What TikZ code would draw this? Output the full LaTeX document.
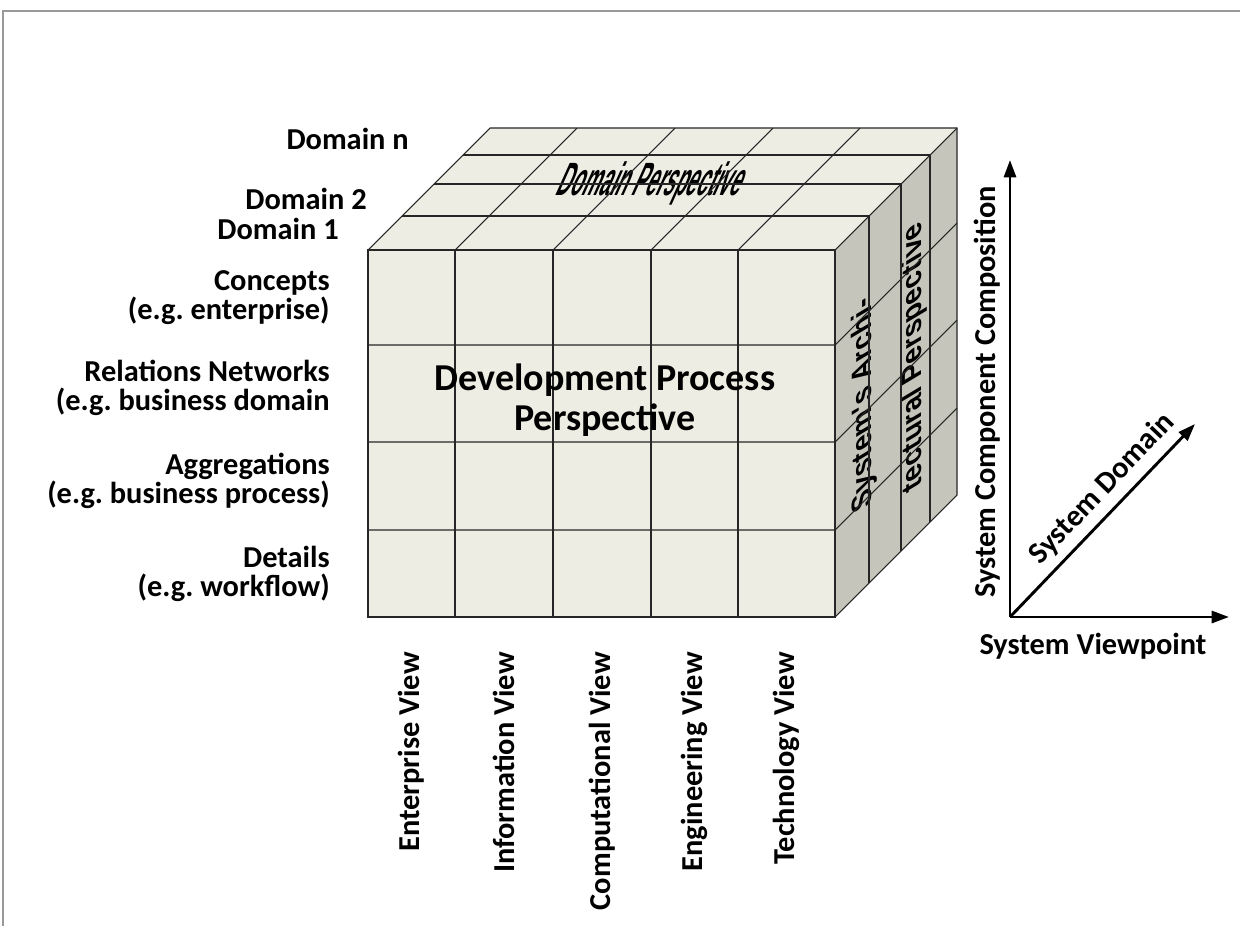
\documentclass[tikz,border=0pt]{standalone}
\usepackage{fontspec}
\setmainfont{Carlito}
\newfontfamily\warpfont{Liberation Sans}
\usetikzlibrary{arrows.meta}
\frenchspacing

\definecolor{facefront}{RGB}{238,237,228}
\definecolor{faceside}{RGB}{197,197,188}

\begin{document}
\begin{tikzpicture}[
  x=0.75pt, y=-0.75pt,
  every node/.style={inner sep=0pt},
  lbl/.style={font=\bfseries\fontsize{22.8}{21.8}\selectfont},
  rowlabel/.style={lbl, anchor=east, align=right},
  viewlabel/.style={lbl, rotate=90, anchor=east},
  cell/.style={draw=black!85, line width=0.8pt},
  warped/.style={font=\warpfont\bfseries\fontsize{20}{20}\selectfont},
  axis/.style={-{Triangle[length=13pt,width=9pt]}, line width=2.2pt}
]
\useasboundingbox (0,0) rectangle (1240,926);
\draw[gray!80, line width=1.5pt] (3,926) -- (3,11) -- (1240,11);

% faces of the cube
\fill[facefront] (368,250) -- (490,128) -- (957,128) -- (835,250) -- cycle;
\fill[faceside] (835,250) -- (957,128) -- (957,495) -- (835,617) -- cycle;
\fill[facefront] (368,250) rectangle (835,617);

% captions warped onto the top and side faces
\node[warped, xslant=0.45, xscale=0.72, yscale=1.75] (domp) at (652,183) {Domain Perspective};
\node[warped, rotate=90, xslant=-0.6, xscale=1.05, yscale=1.05] (arch1) at (864,404) {System's Archi-};
\node[warped, rotate=90, xslant=-0.6, xscale=1.05, yscale=1.05] (arch2) at (914,357) {tectural Perspective};

% grid
\foreach \x in {455,553,651,738} {
  \draw[cell] (\x,250) -- (\x,617);
  \draw[cell] (\x,250) -- ++(122,-122);
}
\foreach \y in {345,442,530} {
  \draw[cell] (368,\y) -- (835,\y) -- ++(122,-122);
}
\foreach \d in {34,66,95} {
  \draw[cell] (368+\d,250-\d) -- (835+\d,250-\d) -- (835+\d,617-\d);
}
\draw[cell] (368,250) rectangle (835,617);
\draw[cell] (368,250) -- (490,128) -- (957,128) -- (957,495) -- (835,617);
\draw[cell] (835,250) -- (957,128);

\node[rowlabel] (domn) at (409,139) {Domain n};
\node[rowlabel] (dom2) at (367,199) {Domain 2};
\node[rowlabel] (dom1) at (339,229) {Domain 1};
\node[rowlabel] (concepts) at (330,298) {Concepts\\(e.g. enterprise)};
\node[rowlabel] (relations) at (330,388) {Relations Networks\\(e.g. business domain};
\node[rowlabel] (aggr) at (330,481) {Aggregations\\(e.g. business process)};
\node[rowlabel] (details) at (330,574) {Details\\(e.g. workflow)};

\foreach \x/\nm/\txt in {411/entv/Enterprise View, 504/infv/Information View,
    602/compv/Computational View, 694/engv/Engineering View, 786/techv/Technology View}
  \node[viewlabel] (\nm) at (\x,652) {\txt};

\node[font=\bfseries\fontsize{28.5}{30}\selectfont, align=center] (devproc) at (605,400)
  {Development Process\\Perspective};

% axes
\coordinate (origin) at (1010,617);
\coordinate (vtip) at (1010,160);
\coordinate (htip) at (1229,617);
\coordinate (dtip) at (1195,424);
\draw[axis] (origin) -- (vtip);
\draw[axis] (origin) -- (htip);
\draw[axis] (origin) -- (dtip);
\node[lbl, rotate=90] (compaxis) at (987,392) {System Component Composition};
\node[lbl] (vpaxis) at (1093,646) {System Viewpoint};
\node[lbl, rotate=46.4] (domaxis) at (1102,489) {System Domain};
\end{tikzpicture}
\end{document}
